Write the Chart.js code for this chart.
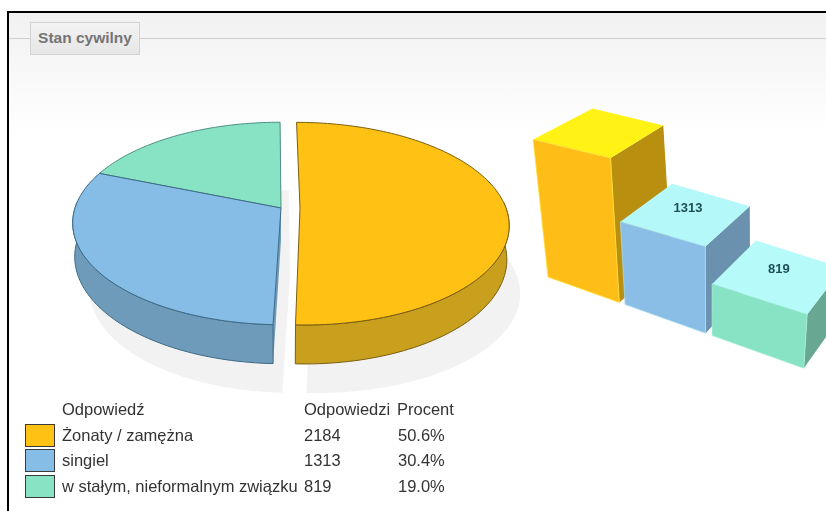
<!DOCTYPE html>
<html lang="pl"><head><meta charset="utf-8">
<script src="https://cdn.jsdelivr.net/npm/chart.js@4"></script>
<style>
html,body{margin:0;padding:0;background:#fff;width:826px;height:511px;overflow:hidden;font-family:"Liberation Sans",Arial,sans-serif}
#frame{position:absolute;left:7px;top:11px;width:819px;height:500px;border-left:2px solid #000;border-top:2px solid #000;box-sizing:border-box;background:linear-gradient(#f1f1f1 0,#fbfbfb 85px,#fff 125px,#fff 100%)}
#rule{position:absolute;left:9px;top:38px;width:817px;height:1px;background:#cfcfcf}
#title{position:absolute;left:30px;top:22px;width:110px;height:33px;box-sizing:border-box;border:1px solid #d2d2d2;background:linear-gradient(#f3f3f3,#e6e6e6);color:#757575;font-weight:bold;font-size:15.5px;line-height:30px;text-align:center}
canvas{position:absolute;left:0;top:0}
#legend{position:absolute;left:25px;top:397px;border-collapse:collapse;color:#333;font-size:16.5px}
#legend td{padding:0;height:25.5px;white-space:nowrap}
.sw{display:block;width:28px;height:21px;border:1.5px solid #3a3a3a;box-sizing:content-box;margin-right:7px}
</style></head><body>
<div id="frame"></div><div id="rule"></div><div id="title">Stan cywilny</div>
<div style="position:absolute;left:0;top:0;width:826px;height:511px"><canvas id="pie" width="826" height="511"></canvas></div>
<div style="position:absolute;left:0;top:0;width:826px;height:511px"><canvas id="bars" width="826" height="511"></canvas></div>
<table id="legend"></table>
<script>
const categories=['Żonaty / zamężna','singiel','w stałym, nieformalnym związku'];
const responses=[2184,1313,819];
const percents=['50.6%','30.4%','19.0%'];
const headers=['Odpowiedź','Odpowiedzi','Procent'];
const barLabels=[null,'1313','819'];

const topColors=['#FFC114','#85BDE6','#87E3C3'];
const sideColors=['#C9A01E','#6F9BBA','#6FA592'];
const edgeColors=['#7A5E10','#3E6A85','#4F8F84'];
const barFront=['#FFBE17','#8ABEE6','#87E3C3'];
const barTop=['#FFF214','#B4F8FA','#B6FBFA'];
const barSide=['#B98F10','#6A92AE','#68A892'];
const barEdge=['rgba(255,225,60,.8)','rgba(170,225,240,.7)','rgba(170,240,225,.7)'];

// perspective pie
const VX=274,K=0.153,SQUASH=0.48,DEPTH=33;
function pieProject(arc,ox,oy,a,r){
  const R=arc.outerRadius;
  const px=arc.x+ox+r*Math.cos(a), py=oy+r*Math.sin(a);
  const v=py/R, w=1-K*v;
  return {x:VX+(px-VX)/w, y:arc.y+py*SQUASH/w, w};
}
function down(p){return {x:VX+(p.x-VX)*0.99,y:p.y+DEPTH/p.w};}
function samples(arc,ox,oy){
  const out=[],n=Math.max(8,Math.ceil((arc.endAngle-arc.startAngle)*40));
  for(let i=0;i<=n;i++){out.push(pieProject(arc,ox,oy,arc.startAngle+(arc.endAngle-arc.startAngle)*i/n,arc.outerRadius));}
  return out;
}
function poly(ctx,pts){ctx.beginPath();pts.forEach((p,i)=>i?ctx.lineTo(p.x,p.y):ctx.moveTo(p.x,p.y));}
const pie3d={id:'pie3d',beforeDatasetsDraw(chart){
  const ctx=chart.ctx,arcs=chart.getDatasetMeta(0).data;
  const items=arcs.map((arc,i)=>{
    const mid=(arc.startAngle+arc.endAngle)/2,off=arc.options.offset||0;
    const ox=off*Math.cos(mid),oy=off*Math.sin(mid);
    return {arc,i,ox,oy,off,rim:samples(arc,ox,oy),c:pieProject(arc,ox,oy,0,0)};
  });
  ctx.save();
  // ground shadow: the exploded slice keeps its size, the others fall slightly smaller
  ctx.fillStyle='#f2f2f2';
  items.forEach(s=>{
    ctx.save();
    ctx.translate(s.off?11:9,68);
    if(!s.off){ctx.translate(s.c.x,s.c.y);ctx.scale(0.96,1);ctx.translate(-s.c.x,-s.c.y);}
    poly(ctx,[s.c,...s.rim]);ctx.closePath();ctx.fill();ctx.restore();
  });
  ctx.lineJoin='round';
  [2,1,0].forEach(i=>{
    const s=items[i],rim=s.rim,first=rim[0],last=rim[rim.length-1];
    ctx.fillStyle=sideColors[i];ctx.strokeStyle=edgeColors[i];ctx.lineWidth=1;
    if(!s.off){[first,last].forEach(e=>{poly(ctx,[s.c,e,down(e),down(s.c)]);ctx.closePath();ctx.fill();});}
    const front=rim.filter(p=>p.w<1.01);
    if(front.length>1){poly(ctx,[...front,...front.slice().reverse().map(down)]);ctx.closePath();ctx.fill();ctx.stroke();}
    poly(ctx,[s.c,...rim]);ctx.closePath();
    ctx.fillStyle=topColors[i];ctx.fill();ctx.stroke();
  });
  ctx.restore();
  return false;
}};
new Chart(document.getElementById('pie'),{type:'pie',plugins:[pie3d],
  data:{labels:categories,datasets:[{data:responses,backgroundColor:topColors,offset:[19,0,0],radius:206,borderWidth:0}]},
  options:{responsive:false,animation:false,layout:{padding:{left:0,right:264,top:0,bottom:95}},
    plugins:{legend:{display:false},tooltip:{enabled:false}},events:[]}});

// perspective bars
const RISE=1500,VERT_X=710,DEP_X=1216,DEP_Y=-216,DEP=0.087;
function groundPoint(t){const w=1-0.0575*t;return [(41.1*t+548)/w,(10*t+277)/w];}
function barProject(t,h,d){
  const g=groundPoint(t);
  let x=g[0]+(g[0]-VERT_X)*h/RISE,y=g[1]-h;
  x+=(DEP_X-x)*d;y+=(DEP_Y-y)*d;
  return {x,y};
}
const bars3d={id:'bars3d',beforeDatasetsDraw(chart){
  const ctx=chart.ctx,area=chart.chartArea,els=chart.getDatasetMeta(0).data,band=area.width/els.length;
  ctx.save();ctx.lineJoin='round';
  els.forEach((el,i)=>{
    const t0=(el.x-el.width/2-area.left-(band-el.width)/2)/band,t1=t0+el.width/band;
    const h0=el.base-el.y,h1=h0*1.05;
    const fl=barProject(t0,h0,0),fr=barProject(t1,h1,0),bl=barProject(t0,0,0),br=barProject(t1,0,0);
    const tb=barProject(t0,h0,DEP),tr=barProject(t1,h1,DEP),gr=barProject(t1,0,DEP);
    ctx.fillStyle=barSide[i];poly(ctx,[fr,tr,gr,br]);ctx.closePath();ctx.fill();
    ctx.fillStyle=barTop[i];poly(ctx,[fl,tb,tr,fr]);ctx.closePath();ctx.fill();
    ctx.fillStyle=barFront[i];ctx.strokeStyle=barEdge[i];ctx.lineWidth=1;
    poly(ctx,[fl,fr,br,bl]);ctx.closePath();ctx.fill();ctx.stroke();
    if(barLabels[i]){
      const c=barProject(t0+(t1-t0)*0.45,h0*1.02,0.055);
      ctx.fillStyle='#1E4E5A';ctx.font='bold 13px "Liberation Sans",Arial,sans-serif';
      ctx.textAlign='center';ctx.textBaseline='middle';
      ctx.fillText(barLabels[i],c.x,c.y);
    }
  });
  ctx.restore();
  return false;
}};
new Chart(document.getElementById('bars'),{type:'bar',plugins:[bars3d],
  data:{labels:categories,datasets:[{data:responses,backgroundColor:barFront,categoryPercentage:1,barPercentage:0.93}]},
  options:{responsive:false,animation:false,layout:{padding:{left:530,right:0,top:100,bottom:211}},
    scales:{x:{display:false},y:{display:false,min:0,max:3175}},
    plugins:{legend:{display:false},tooltip:{enabled:false}},events:[]}});

// legend table
const table=document.getElementById('legend');
const row=(cells)=>{const tr=document.createElement('tr');cells.forEach(c=>{const td=document.createElement('td');if(c.sw){const s=document.createElement('span');s.className='sw';s.style.background=c.sw;td.appendChild(s);}else{td.textContent=c.text;td.style.width=c.w+'px';if(c.pad)td.style.paddingLeft=c.pad+'px';}tr.appendChild(td);});table.appendChild(tr);};
row([{text:''},{text:headers[0],w:242},{text:headers[1],w:93},{text:headers[2],w:70}]);
categories.forEach((c,i)=>row([{sw:topColors[i]},{text:c,w:242},{text:String(responses[i]),w:93},{text:percents[i],w:70,pad:1}]));
</script>
</body></html>
